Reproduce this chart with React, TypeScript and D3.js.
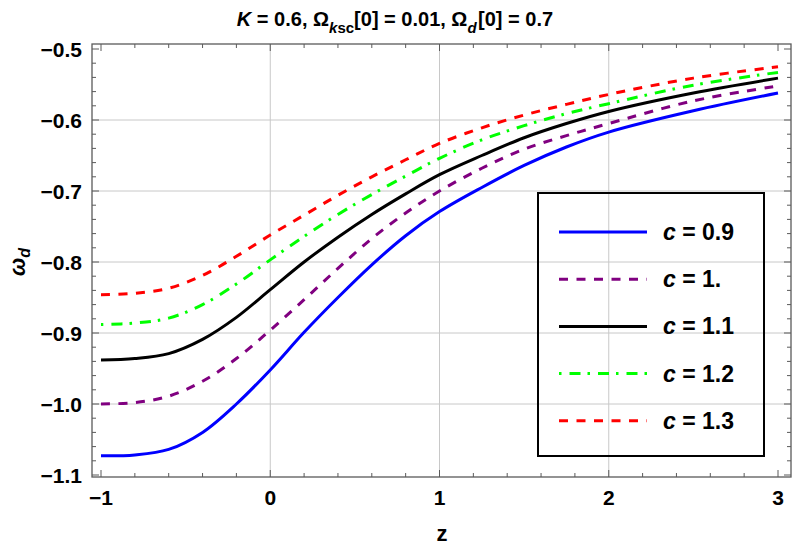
import * as d3 from 'd3';
import React from 'react';

// z grid the curves were read at
const zValues = [-1, -0.8, -0.6, -0.4, -0.2, 0, 0.2, 0.4, 0.6, 0.8, 1, 1.25, 1.5, 1.75, 2, 2.5, 3];

const wBlue = [-1.073, -1.0718, -1.064, -1.04, -1.0, -0.952, -0.899, -0.85, -0.804, -0.763, -0.729, -0.695, -0.664, -0.638, -0.617, -0.587, -0.562];
const wPurple = [-1.0, -0.998, -0.989, -0.968, -0.936, -0.896, -0.853, -0.809, -0.767, -0.731, -0.7, -0.668, -0.641, -0.622, -0.605, -0.573, -0.552];
const wBlack = [-0.938, -0.936, -0.929, -0.909, -0.878, -0.839, -0.8, -0.765, -0.733, -0.704, -0.677, -0.65, -0.625, -0.605, -0.588, -0.562, -0.541];
const wGreen = [-0.888, -0.886, -0.879, -0.86, -0.831, -0.797, -0.764, -0.733, -0.705, -0.679, -0.654, -0.628, -0.608, -0.591, -0.577, -0.551, -0.533];
const wRed = [-0.846, -0.844, -0.837, -0.819, -0.792, -0.762, -0.734, -0.706, -0.68, -0.656, -0.633, -0.611, -0.593, -0.578, -0.564, -0.541, -0.525];

const legendLabels = ['0.9', '1.', '1.1', '1.2', '1.3'];
const xTicks = [-1, 0, 1, 2, 3];
const yTicks = [-1.1, -1.0, -0.9, -0.8, -0.7, -0.6, -0.5];
const xGrid = [0, 1, 2];
const yGrid = [-1.0, -0.9, -0.8, -0.7, -0.6];

type Series = { label: string; values: number[]; color: string; dash: string };

const series: Series[] = [
  { label: legendLabels[0], values: wBlue, color: '#0000ff', dash: '' },
  { label: legendLabels[1], values: wPurple, color: '#800080', dash: '9,8.5' },
  { label: legendLabels[2], values: wBlack, color: '#000000', dash: '' },
  { label: legendLabels[3], values: wGreen, color: '#00ff00', dash: '2.5,8,11,7' },
  { label: legendLabels[4], values: wRed, color: '#ff0000', dash: '9,8.5' },
];

const W = 792;
const H = 545;
const frame = { left: 92, right: 791, top: 44, bottom: 477 };
const font = '"Liberation Sans", Arial, sans-serif';
const frameColor = '#5a5a5a';
const minus = (s: string) => s.replace('-', '\u2212');

const App: React.FC = () => {
  const x = d3.scaleLinear().domain([-1, 3]).range([101, 778]);
  const y = d3.scaleLinear().domain([-1.1, -0.5]).range([475, 49]);

  const line = d3
    .line<number>()
    .x((_, i) => x(zValues[i]))
    .y(d => y(d))
    .curve(d3.curveCatmullRom.alpha(0.5));

  const xMinor = d3.range(-1, 3.0001, 0.2);
  const yMinor = d3.range(-1.1, -0.4999, 0.02);

  const legend = { x0: 538, y0: 193, x1: 764, y1: 456, row0: 232, rowStep: 47.2 };

  return (
    <svg width={W} height={H} style={{ position: 'absolute', left: 0, top: 0, background: '#fff' }} fontFamily={font}>
      {/* grid */}
      {xGrid.map(v => (
        <line key={'gx' + v} x1={x(v)} x2={x(v)} y1={frame.top} y2={frame.bottom} stroke="#c8c8c8" strokeWidth={1} />
      ))}
      {yGrid.map(v => (
        <line key={'gy' + v} x1={frame.left} x2={frame.right} y1={y(v)} y2={y(v)} stroke="#c8c8c8" strokeWidth={1} />
      ))}

      {/* curves */}
      {series.map(s => (
        <path
          key={s.label}
          d={line(s.values) ?? ''}
          fill="none"
          stroke={s.color}
          strokeWidth={3}
          strokeDasharray={s.dash || undefined}
        />
      ))}

      {/* frame and ticks */}
      <rect
        x={frame.left}
        y={frame.top}
        width={frame.right - frame.left}
        height={frame.bottom - frame.top}
        fill="none"
        stroke={frameColor}
        strokeWidth={1.3}
      />
      {xMinor.map((v, i) => {
        const major = i % 5 === 0;
        const len = major ? 7 : 4;
        return (
          <g key={'xt' + i} stroke={frameColor} strokeWidth={1}>
            <line x1={x(v)} x2={x(v)} y1={frame.bottom} y2={frame.bottom - len} />
            <line x1={x(v)} x2={x(v)} y1={frame.top} y2={frame.top + len} />
          </g>
        );
      })}
      {yMinor.map((v, i) => {
        const major = i % 5 === 0;
        const len = major ? 7 : 4;
        return (
          <g key={'yt' + i} stroke={frameColor} strokeWidth={1}>
            <line x1={frame.left} x2={frame.left + len} y1={y(v)} y2={y(v)} />
            <line x1={frame.right} x2={frame.right - len} y1={y(v)} y2={y(v)} />
          </g>
        );
      })}

      {/* tick labels */}
      {xTicks.map(v => (
        <text key={'xl' + v} x={x(v)} y={504.5} textAnchor="middle" fontSize={21} fontWeight="bold">
          {minus(d3.format('d')(v))}
        </text>
      ))}
      {yTicks.map(v => (
        <text key={'yl' + v} x={82} y={y(v) + 7.5} textAnchor="end" fontSize={21} fontWeight="bold">
          {minus(d3.format('.1f')(v))}
        </text>
      ))}

      {/* axis labels */}
      <text x={442} y={541} textAnchor="middle" fontSize={22} fontWeight="bold">
        z
      </text>
      <text transform="translate(25,262) rotate(-90)" textAnchor="middle" fontSize={22} fontWeight="bold">
        <tspan fontStyle="italic">ω</tspan>
        <tspan fontSize={16} dy={5} fontStyle="italic">
          d
        </tspan>
      </text>

      {/* title */}
      <text x={395} y={26} textAnchor="middle" fontSize={20} fontWeight="bold">
        <tspan fontStyle="italic">K</tspan>
        <tspan>{' = 0.6, Ω'}</tspan>
        <tspan dy={7} fontSize={15} fontStyle="italic">
          k
        </tspan>
        <tspan fontSize={15}>sc</tspan>
        <tspan dy={-7}>{'[0] = 0.01, Ω'}</tspan>
        <tspan dy={7} fontSize={15} fontStyle="italic">
          d
        </tspan>
        <tspan dy={-7} dx={1.5}>
          {'[0] = 0.7'}
        </tspan>
      </text>

      {/* legend */}
      <rect
        x={legend.x0}
        y={legend.y0}
        width={legend.x1 - legend.x0}
        height={legend.y1 - legend.y0}
        fill="none"
        stroke="#000"
        strokeWidth={2}
      />
      {series.map((s, i) => {
        const ly = legend.row0 + i * legend.rowStep;
        return (
          <g key={'lg' + s.label}>
            <line
              x1={559}
              x2={647}
              y1={ly}
              y2={ly}
              stroke={s.color}
              strokeWidth={3}
              strokeDasharray={s.dash || undefined}
            />
            <text x={663} y={ly + 8} fontSize={23} fontWeight="bold">
              <tspan fontStyle="italic">c</tspan>
              <tspan>{' = ' + s.label}</tspan>
            </text>
          </g>
        );
      })}
    </svg>
  );
};

export default App;
